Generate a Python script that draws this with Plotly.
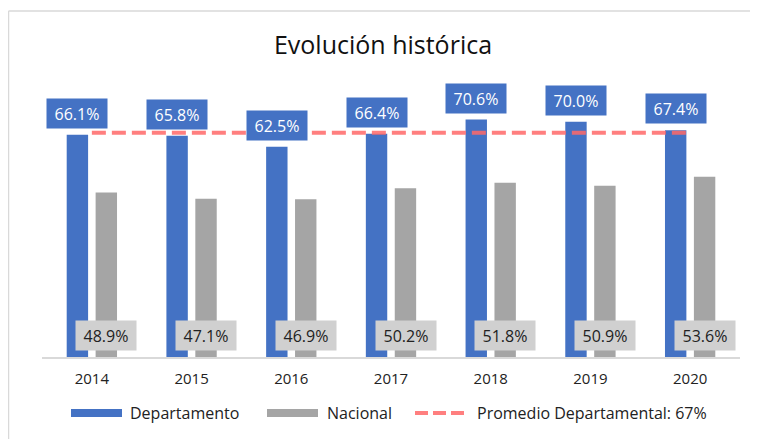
import plotly.graph_objects as go

# Datos
years = ["2014", "2015", "2016", "2017", "2018", "2019", "2020"]
departamento = [66.1, 65.8, 62.5, 66.4, 70.6, 70.0, 67.4]
nacional = [48.9, 47.1, 46.9, 50.2, 51.8, 50.9, 53.6]
promedio = 66.7
legend_names = ["Departamento", "Nacional", "Promedio Departamental: 67%"]

BLUE = "#4472C4"
GREY = "#A5A5A5"
RED = "rgba(255,105,105,0.85)"
FONT = "Open Sans"
TXT = "#222222"

# figure is 750x431 (the page adds an 8px body margin)
W, H = 750, 431
L, R, T, B = 34, 18, 80, 82
YMAX = 80
plot_w = W - L - R
plot_h = H - T - B


def px_x(px):
    return (px - L) / plot_w


def px_y(py):
    return (H - B - py) / plot_h


fig = go.Figure()

fig.add_trace(go.Bar(x=years, y=departamento, name=legend_names[0],
                     marker_color=BLUE, marker_line_width=0, showlegend=False))
fig.add_trace(go.Bar(x=years, y=nacional, name=legend_names[1],
                     marker_color=GREY, marker_line_width=0, showlegend=False))
fig.add_trace(go.Scatter(x=years, y=[promedio] * len(years), mode="lines",
                         line=dict(color=RED, width=4, dash="14px,6px"),
                         showlegend=False, hoverinfo="skip"))

# data labels; x given as category index (year strings would read as numbers)
annotations = []
for i, (d, n) in enumerate(zip(departamento, nacional)):
    annotations.append(dict(
        x=i, y=d, xref="x", yref="y", text=f"{d:.1f}%", showarrow=False,
        xshift=-14.5, yanchor="bottom", yshift=6,
        bgcolor=BLUE, font=dict(color="white", size=16, family=FONT),
        width=54, height=23, borderpad=3,
    ))
    annotations.append(dict(
        x=i, y=0, xref="x", yref="y", text=f"{n:.1f}%", showarrow=False,
        xshift=14.5, yanchor="bottom", yshift=6,
        bgcolor="#D0D0D0", font=dict(color=TXT, size=16, family=FONT),
        width=54, height=23, borderpad=3,
    ))

# manual legend with wide swatches
leg_y = px_y(405)
swatches = [(63, 114, BLUE, 8, "solid"), (259, 310, GREY, 8, "solid"),
            (407, 457, RED, 4, "13px,5px")]
text_x = [120, 317, 467]
shapes = []
for (x0, x1, col, lw, dash), name, tx in zip(swatches, legend_names, text_x):
    shapes.append(dict(type="line", xref="paper", yref="paper",
                       x0=px_x(x0), x1=px_x(x1), y0=leg_y, y1=leg_y,
                       line=dict(color=col, width=lw, dash=dash)))
    annotations.append(dict(x=px_x(tx), y=leg_y, xref="paper", yref="paper",
                            text=name, showarrow=False, xanchor="left",
                            yanchor="middle",
                            font=dict(family=FONT, size=16, color=TXT)))

# chart frame (top and left edges visible)
shapes.append(dict(type="line", xref="paper", yref="paper",
                   x0=px_x(0.5), x1=px_x(W), y0=px_y(3), y1=px_y(3),
                   line=dict(color="#D9D9D9", width=1.5)))
shapes.append(dict(type="line", xref="paper", yref="paper",
                   x0=px_x(0.5), x1=px_x(0.5), y0=px_y(3), y1=px_y(H),
                   line=dict(color="#D9D9D9", width=1.5)))

fig.update_layout(
    width=W, height=H,
    margin=dict(l=L, r=R, t=T, b=B, autoexpand=False),
    paper_bgcolor="white", plot_bgcolor="white",
    barmode="group", bargap=0.42, bargroupgap=0.26,
    showlegend=False,
    title=dict(text="Evolución histórica", x=0.5, xanchor="center",
               y=1 - 37 / H, yanchor="middle",
               font=dict(family=FONT, size=25, color="#111111")),
    xaxis=dict(type="category", range=[-0.5, len(years) - 0.5],
               showgrid=False, showline=True,
               linecolor="#D9D9D9", linewidth=1.5,
               ticks="outside", ticklen=7, tickcolor="rgba(0,0,0,0)",
               tickfont=dict(family=FONT, size=15, color=TXT)),
    yaxis=dict(range=[0, YMAX], visible=False, showgrid=False),
    annotations=annotations,
    shapes=shapes,
)

fig.write_html("out.html")
